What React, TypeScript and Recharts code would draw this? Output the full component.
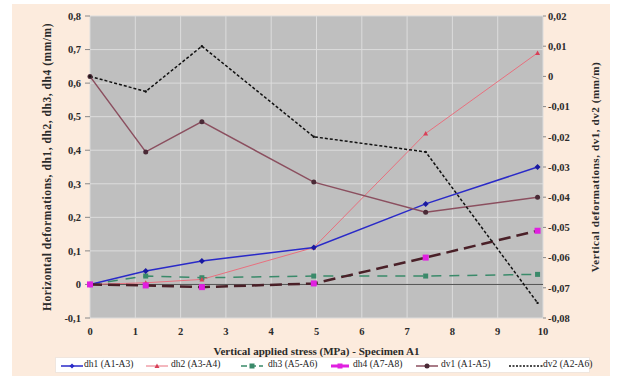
import React from 'react';
import { ComposedChart, Line, XAxis, YAxis, CartesianGrid, ReferenceLine } from 'recharts';

const stress = [0, 1.23, 2.47, 4.94, 7.41, 9.88];
const dh1 = [0, 0.04, 0.07, 0.11, 0.24, 0.35];
const dh2 = [0, 0.005, 0.015, 0.11, 0.45, 0.69];
const dh3 = [0, 0.025, 0.02, 0.025, 0.025, 0.03];
const dh4 = [0, -0.003, -0.008, 0.003, 0.08, 0.16];
const dv1 = [0, -0.025, -0.015, -0.035, -0.045, -0.04];
const dv2 = [0, -0.005, 0.01, -0.02, -0.025, -0.075];

const xTicks = [0, 1, 2, 3, 4, 5, 6, 7, 8, 9, 10];
const leftTicks = [-0.1, 0, 0.1, 0.2, 0.3, 0.4, 0.5, 0.6, 0.7, 0.8];
const rightTicks = [-0.08, -0.07, -0.06, -0.05, -0.04, -0.03, -0.02, -0.01, 0, 0.01, 0.02];

const seriesNames = ['dh1 (A1-A3)', 'dh2 (A3-A4)', 'dh3 (A5-A6)', 'dh4 (A7-A8)', 'dv1 (A1-A5)', 'dv2 (A2-A6)'];
const xTitle = 'Vertical applied stress (MPa) - Specimen A1';
const leftTitle = 'Horizontal deformations, dh1, dh2, dh3, dh4 (mm/m)';
const rightTitle = 'Vertical deformations, dv1, dv2 (mm/m)';

const data = stress.map((s, i) => ({
  stress: s,
  dh1: dh1[i],
  dh2: dh2[i],
  dh3: dh3[i],
  dh4: dh4[i],
  dv1: dv1[i],
  dv2: dv2[i],
}));

const FONT = '"Liberation Serif", "DejaVu Serif", serif';

const fmtLeft = (v: number) => (Math.abs(v) < 1e-9 ? '0' : v.toFixed(1).replace('.', ','));
const fmtRight = (v: number) => (Math.abs(v) < 1e-9 ? '0' : v.toFixed(2).replace('.', ','));

type Shape = 'diamond' | 'triangle' | 'square' | 'circle' | 'none';

const markerEl = (shape: Shape, cx: number, cy: number, color: string, s: number, key?: any) => {
  if (shape === 'diamond')
    return <path key={key} d={`M${cx},${cy - s} L${cx + s},${cy} L${cx},${cy + s} L${cx - s},${cy} Z`} fill={color} />;
  if (shape === 'triangle')
    return <path key={key} d={`M${cx},${cy - s} L${cx + s},${cy + s * 0.8} L${cx - s},${cy + s * 0.8} Z`} fill={color} />;
  if (shape === 'square')
    return <rect key={key} x={cx - s} y={cy - s} width={2 * s} height={2 * s} fill={color} />;
  if (shape === 'circle') return <circle key={key} cx={cx} cy={cy} r={s} fill={color} />;
  return <g key={key} />;
};

const makeDot = (shape: Shape, color: string, s: number) => (props: any) => {
  const { cx, cy, index } = props;
  if (cx == null || cy == null) return <g key={`d${index}`} />;
  return markerEl(shape, cx, cy, color, s, `d${index}`);
};

const legendItems = [
  { color: '#2a2ac8', dash: undefined, width: 1.5, shape: 'diamond' as Shape, mcolor: '#2a2ac8', sx: 60, tx: 83, sw: 22 },
  { color: '#e8707e', dash: undefined, width: 1, shape: 'triangle' as Shape, mcolor: '#d84058', sx: 145, tx: 170, sw: 22 },
  { color: '#3a8a6a', dash: '6 3', width: 1.5, shape: 'square' as Shape, mcolor: '#3a8a6a', sx: 240, tx: 267, sw: 22 },
  { color: '#e020e0', dash: undefined, width: 3, shape: 'square' as Shape, mcolor: '#e020e0', sx: 330, tx: 352, sw: 18 },
  { color: '#8b4f5f', dash: undefined, width: 1.5, shape: 'circle' as Shape, mcolor: '#4a2a36', sx: 415, tx: 440, sw: 22 },
  { color: '#111', dash: '2 1.5', width: 1.5, shape: 'none' as Shape, mcolor: '#111', sx: 508, tx: 542, sw: 34 },
];

export default function App() {
  const tickStyle = { fontSize: 10.5, fontWeight: 'bold' as const, fill: '#2a2a2a', fontFamily: FONT };
  return (
    <div style={{ position: 'absolute', left: 0, top: 0, width: 622, height: 378, background: '#ffffff', overflow: 'hidden' }}>
      <div style={{ position: 'absolute', left: 12, top: 4, width: 598, height: 372, background: '#fcebdd' }} />
      <div style={{ position: 'absolute', left: 0, top: 0 }}>
        <ComposedChart width={622} height={378} data={data} margin={{ top: 16, right: 19, bottom: 20, left: 30 }}>
          <CartesianGrid yAxisId="left" fill="#bfbfbf" fillOpacity={1} stroke="#dcdcdc" strokeWidth={1} />
          <XAxis
            dataKey="stress"
            type="number"
            domain={[0, 10]}
            ticks={xTicks}
            height={40}
            axisLine={false}
            tickLine={false}
            tickSize={6}
            tickMargin={4}
            tick={tickStyle}
            label={{ value: xTitle, position: 'insideBottom', offset: 3, style: { fontSize: 11, fontWeight: 'bold', fill: '#2a2a2a', fontFamily: FONT } }}
          />
          <YAxis
            yAxisId="left"
            domain={[-0.1, 0.8]}
            ticks={leftTicks}
            width={60}
            axisLine={false}
            tickLine={{ stroke: '#888' }}
            tickSize={5}
            tickMargin={4}
            tickFormatter={fmtLeft}
            tick={tickStyle}
            label={{ value: leftTitle, angle: -90, position: 'insideLeft', offset: 17, style: { fontSize: 11.5, letterSpacing: 0.55, fontWeight: 'bold', fill: '#2a2a2a', fontFamily: FONT, textAnchor: 'middle' } }}
          />
          <YAxis
            yAxisId="right"
            orientation="right"
            domain={[-0.08, 0.02]}
            ticks={rightTicks}
            width={60}
            axisLine={false}
            tickLine={{ stroke: '#888' }}
            tickSize={3}
            tickMargin={2}
            tickFormatter={fmtRight}
            tick={tickStyle}
            label={{ value: rightTitle, angle: -90, position: 'insideRight', offset: 8, style: { fontSize: 11, letterSpacing: 0.6, fontWeight: 'bold', fill: '#2a2a2a', fontFamily: FONT, textAnchor: 'middle' } }}
          />
          <ReferenceLine yAxisId="left" y={0} stroke="#505050" strokeWidth={1} />
          <Line yAxisId="left" dataKey="dh3" stroke="#3a8a6a" strokeWidth={1.5} strokeDasharray="10 8" dot={makeDot('square', '#3a8a6a', 2.5)} isAnimationActive={false} />
          <Line yAxisId="left" dataKey="dh2" stroke="#e8707e" strokeWidth={1} dot={makeDot('triangle', '#d84058', 2.5)} isAnimationActive={false} />
          <Line yAxisId="left" dataKey="dh1" stroke="#2a2ac8" strokeWidth={1.5} dot={makeDot('diamond', '#1a1aa0', 3)} isAnimationActive={false} />
          <Line yAxisId="left" dataKey="dh4" stroke="#4a2028" strokeWidth={2.5} strokeDasharray="12 6" dot={makeDot('square', '#e020e0', 3)} isAnimationActive={false} />
          <Line yAxisId="right" dataKey="dv1" stroke="#8b4f5f" strokeWidth={1.5} dot={makeDot('circle', '#4a2a36', 2.5)} isAnimationActive={false} />
          <Line yAxisId="right" dataKey="dv2" stroke="#111111" strokeWidth={1.5} strokeDasharray="3 2" dot={makeDot('circle', '#111111', 1.2)} isAnimationActive={false} />
        </ComposedChart>
      </div>
      <div style={{ position: 'absolute', left: 55, top: 357, width: 535, height: 16, background: '#ffffff', border: '1px solid #f0e6de', boxSizing: 'border-box' }}>
        {legendItems.map((it, i) => (
          <React.Fragment key={i}>
            <svg style={{ position: 'absolute', left: it.sx - 55, top: 3 }} width={it.sw} height={10}>
              <line x1={0} y1={5} x2={it.sw} y2={5} stroke={it.color} strokeWidth={it.width} strokeDasharray={it.dash} />
              {markerEl(it.shape, it.sw / 2, 5, it.mcolor, 2.5)}
            </svg>
            <span style={{ position: 'absolute', left: it.tx - 55, top: 1, fontSize: 9.5, fontFamily: FONT, color: '#222', whiteSpace: 'nowrap' }}>
              {seriesNames[i]}
            </span>
          </React.Fragment>
        ))}
      </div>
    </div>
  );
}
